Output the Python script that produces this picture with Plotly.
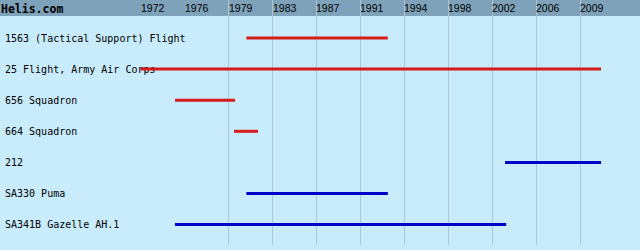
import plotly.graph_objects as go

# ---- data ----
units = [
    "1563 (Tactical Support) Flight",
    "25 Flight, Army Air Corps",
    "656 Squadron",
    "664 Squadron",
    "212",
    "SA330 Puma",
    "SA341B Gazelle AH.1",
]
start_year = [1980.9, 1972.0, 1974.9, 1979.86, 2002.66, 1980.9, 1974.9]
end_year = [1992.8, 2010.73, 1979.95, 1981.88, 2010.73, 1992.8, 2002.75]
kind = ["unit", "unit", "unit", "unit", "type", "type", "type"]

tick_vals = [1972.0, 1975.7, 1979.4, 1983.1, 1986.8, 1990.5, 1994.2, 1997.9, 2001.6, 2005.3, 2009.0]
tick_text = ["1972", "1976", "1979", "1983", "1987", "1991", "1994", "1998", "2002", "2006", "2009"]

colors = {"unit": "#d41c1c", "type": "#0000c8"}
BG = "#c8ecfb"
HEADER = "#7ea2b9"
GRID = "#b0c6d2"

fig = go.Figure()
for name, s, e, k in zip(units, start_year, end_year, kind):
    fig.add_trace(go.Scatter(
        x=[s, e], y=[name, name], mode="lines",
        line=dict(color=colors[k], width=3),
        hoverinfo="skip", showlegend=False,
    ))

# header band
fig.add_shape(type="rect", xref="paper", yref="paper", x0=0, x1=1,
              y0=1 - 16 / 245, y1=1, fillcolor=HEADER, line_width=0, layer="below")

# year labels in header
for v, t in zip(tick_vals, tick_text):
    fig.add_annotation(x=v, xref="x", y=1, yref="paper", text=t, showarrow=False,
                       xanchor="left", yanchor="top", xshift=-2, yshift=0,
                       font=dict(family="Liberation Sans", size=10.5, color="#000000"))

fig.add_annotation(x=0, xref="paper", y=1, yref="paper", text="<b>Helis.com</b>",
                   showarrow=False, xanchor="left", yanchor="top", xshift=-1, yshift=0,
                   font=dict(family="DejaVu Sans Mono", size=11.5, color="#000000"))

fig.update_layout(
    width=640, height=250,
    margin=dict(l=0, r=0, t=0, b=5, pad=0),
    paper_bgcolor=BG, plot_bgcolor="rgba(0,0,0,0)",
    xaxis=dict(range=[1960.18, 2014.01], tickvals=tick_vals, showticklabels=False,
               showgrid=True, gridcolor=GRID, gridwidth=1, zeroline=False, showline=False,
               ticks=""),
    yaxis=dict(type="category", categoryorder="array", categoryarray=units,
               range=[6.656, -1.222], showgrid=False, zeroline=False, showline=False,
               ticks="", ticklabelposition="inside", layer="below traces",
               ticklabelstandoff=2,
               tickfont=dict(family="DejaVu Sans Mono", size=10, color="#000000")),
)

fig.write_html("out.html")
